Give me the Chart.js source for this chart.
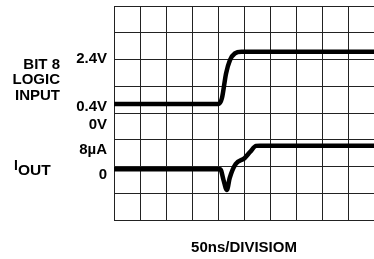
<!DOCTYPE html>
<html>
<head>
<meta charset="utf-8">
<script src="https://cdn.jsdelivr.net/npm/chart.js@4"></script>
<style>
  html, body { margin: 0; padding: 0; background: #fff; }
  #wrap { width: 374px; height: 259px; }
</style>
</head>
<body>
<div id="wrap"><canvas id="scope"></canvas></div>
<script>
// time axis in ns (50ns per division), traces in screen divisions (0 = bottom line)
const inputTime = [0, 201.5, 207.5, 215.5, 223, 232.5, 245, 500];
const inputTrace = [4.34, 4.34, 4.55, 5.48, 5.98, 6.23, 6.29, 6.29];

const ioutTime = [0, 204.5, 210.5, 217, 222.5, 234, 251, 261.5, 273, 280.5, 500];
const ioutTrace = [1.90, 1.90, 1.50, 1.12, 1.57, 2.09, 2.31, 2.54, 2.77, 2.78, 2.78];

// level labels on the left
const levelTicks = [1.68, 2.64, 3.57, 4.22, 6.04];
const levelLabels = ['0', '8\u00b5A', '0V', '0.4V', '2.4V'];

const FONT = "'Liberation Sans', Arial, Helvetica, sans-serif";

function pts(xs, ys) {
    return xs.map((x, i) => ({ x: x, y: ys[i] }));
}

// side captions
const captions = {
    id: 'captions',
    afterDraw(chart) {
        const c = chart.ctx;
        c.save();
        c.fillStyle = '#000';
        c.textBaseline = 'alphabetic';
        c.font = 'bold 15px ' + FONT;
        c.textAlign = 'right';
        c.fillText('BIT 8', 60, 68.5);
        c.fillText('LOGIC', 60, 83.5);
        c.fillText('INPUT', 60, 99.5);
        c.textAlign = 'left';
        c.font = 'bold 14px ' + FONT;
        c.fillText('I', 14, 169.5);
        c.font = 'bold 15.5px ' + FONT;
        c.fillText('OUT', 18, 174.5);
        c.restore();
    }
};

new Chart(document.getElementById('scope'), {
    type: 'line',
    data: {
        datasets: [{
            data: pts(inputTime, inputTrace),
            borderColor: '#000',
            borderWidth: 4.5,
            pointRadius: 0,
            cubicInterpolationMode: 'monotone'
        }, {
            data: pts(ioutTime, ioutTrace),
            borderColor: '#000',
            borderWidth: 4.5,
            pointRadius: 0,
            cubicInterpolationMode: 'monotone'
        }]
    },
    options: {
        responsive: true,
        maintainAspectRatio: false,
        animation: false,
        layout: { padding: { top: 6, right: -8, left: 0, bottom: 0 } },
        plugins: { legend: { display: false }, tooltip: { enabled: false } },
        scales: {
            x: {
                type: 'linear',
                min: 0, max: 500,
                ticks: { display: false, stepSize: 50 },
                grid: { color: '#222', lineWidth: 1, drawTicks: false },
                border: { color: '#222' },
                title: {
                    display: true,
                    text: '50ns/DIVISIOM',
                    color: '#000',
                    font: { family: FONT, size: 15, weight: 'bold' },
                    padding: { top: 0, bottom: 2 }
                },
                afterFit: s => { s.height = 39; s.paddingLeft = 0; s.paddingRight = 0; }
            },
            y: {
                min: 0, max: 8,
                ticks: { display: false, stepSize: 1 },
                grid: { color: '#222', lineWidth: 1, drawTicks: false },
                border: { color: '#222' },
                afterFit: s => { s.width = 0; s.paddingTop = 0; s.paddingBottom = 0; }
            },
            yl: {
                position: 'left',
                min: 0, max: 8,
                grid: { display: false, drawTicks: false },
                border: { display: false },
                afterBuildTicks: s => { s.ticks = levelTicks.map(v => ({ value: v })); },
                afterFit: s => { s.width = 114; s.paddingTop = 0; s.paddingBottom = 0; },
                ticks: {
                    autoSkip: false,
                    padding: 7,
                    color: '#000',
                    font: { family: FONT, size: 15, weight: 'bold' },
                    callback: (v, i) => levelLabels[i]
                }
            }
        }
    },
    plugins: [captions]
});
</script>
</body>
</html>
